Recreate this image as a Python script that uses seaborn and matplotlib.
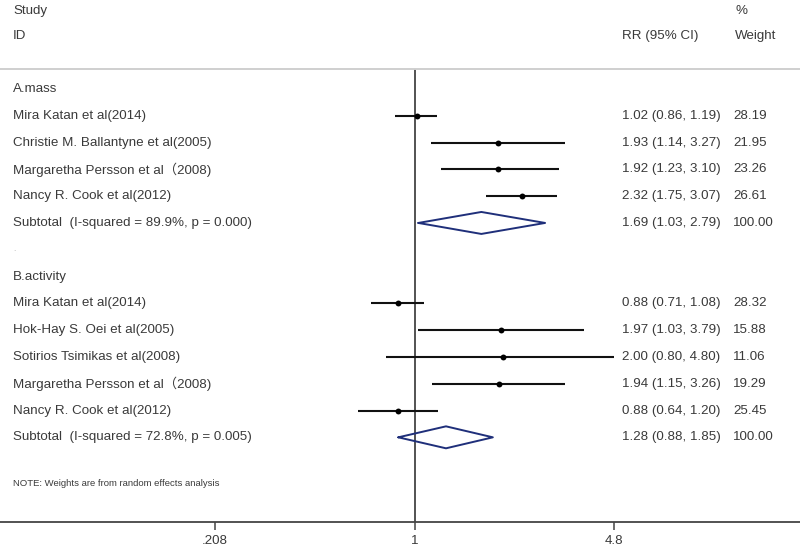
import numpy as np
import pandas as pd
import matplotlib
matplotlib.use("Agg")
import matplotlib.pyplot as plt
import seaborn as sns

# study rows (A.mass then B.activity)
groups = ["A.mass", "B.activity"]
mass_studies = ["Mira Katan et al(2014)", "Christie M. Ballantyne et al(2005)",
                "Margaretha Persson et al（2008)", "Nancy R. Cook et al(2012)"]
mass_rr = [1.02, 1.93, 1.92, 2.32]
mass_lo = [0.86, 1.14, 1.23, 1.75]
mass_hi = [1.19, 3.27, 3.10, 3.07]
mass_wt = ["28.19", "21.95", "23.26", "26.61"]
mass_sub = [1.69, 1.03, 2.79]
mass_sub_label = "Subtotal  (I-squared = 89.9%, p = 0.000)"

act_studies = ["Mira Katan et al(2014)", "Hok-Hay S. Oei et al(2005)",
               "Sotirios Tsimikas et al(2008)", "Margaretha Persson et al（2008)",
               "Nancy R. Cook et al(2012)"]
act_rr = [0.88, 1.97, 2.00, 1.94, 0.88]
act_lo = [0.71, 1.03, 0.80, 1.15, 0.64]
act_hi = [1.08, 3.79, 4.80, 3.26, 1.20]
act_wt = ["28.32", "15.88", "11.06", "19.29", "25.45"]
act_sub = [1.28, 0.88, 1.85]
act_sub_label = "Subtotal  (I-squared = 72.8%, p = 0.005)"

tick_vals = [0.208, 1, 4.8]
tick_labels = [".208", "1", "4.8"]

# build row table
rows = []
r = 0
for g, studies, rr, lo, hi, wt, sub, sublab in [
        ("A.mass", mass_studies, mass_rr, mass_lo, mass_hi, mass_wt, mass_sub, mass_sub_label),
        ("B.activity", act_studies, act_rr, act_lo, act_hi, act_wt, act_sub, act_sub_label)]:
    rows.append(dict(row=r, label=g, kind="group"))
    r += 1
    for s, a, b, c, w in zip(studies, rr, lo, hi, wt):
        rows.append(dict(row=r, label=s, kind="study", rr=a, lo=b, hi=c, wt=w))
        r += 1
    rows.append(dict(row=r, label=sublab, kind="sub", rr=sub[0], lo=sub[1], hi=sub[2], wt="100.00"))
    r += 1
    if g == "A.mass":
        rows.append(dict(row=r, label=".", kind="blank"))
        r += 1
df = pd.DataFrame(rows)

sns.set_theme(style="white")
plt.rcParams["font.family"] = ["Liberation Sans", "Noto Sans CJK SC", "DejaVu Sans"]
txt = "#3a3a3a"
fs = 9.6

fig = plt.figure(figsize=(8, 5.51), dpi=100)
ax = fig.add_axes([0, 29 / 551, 1, 522 / 551])
ax.set_xscale("log")
ax.set_xlim(0.0384, 20.7)
ax.set_ylim(16.16, -3.32)

studies_df = df[df.kind == "study"]
ax.hlines(studies_df.row, studies_df.lo, studies_df.hi, color="#111111", lw=1.5, zorder=3)
sns.scatterplot(data=studies_df, x="rr", y="row", color="black", s=18,
                edgecolor="black", linewidth=0, ax=ax, zorder=4, legend=False)

for _, d in df[df.kind == "sub"].iterrows():
    xs = [d.lo, d.rr, d.hi, d.rr, d.lo]
    ys = [d.row, d.row - 0.41, d.row, d.row + 0.41, d.row]
    ax.plot(xs, ys, color="#1f2f7a", lw=1.4, zorder=4)

# null line and header rule
ax.vlines(1, -0.75, 16.16, color="#444444", lw=1.3, zorder=2)
ax.axhline(-0.75, color="#cfcfcf", lw=1.4)

tr = ax.get_yaxis_transform()
ax.text(13 / 800, -2.9, "Study", transform=tr, fontsize=fs, color=txt, va="center")
ax.text(13 / 800, -1.98, "ID", transform=tr, fontsize=fs, color=txt, va="center")
ax.text(622 / 800, -1.98, "RR (95% CI)", transform=tr, fontsize=fs, color=txt, va="center")
ax.text(735 / 800, -2.9, "%", transform=tr, fontsize=fs, color=txt, va="center")
ax.text(735 / 800, -1.98, "Weight", transform=tr, fontsize=fs, color=txt, va="center")

for _, d in df.iterrows():
    size = 6 if d.kind == "blank" else fs
    ax.text(13 / 800, d.row, d.label, transform=tr, fontsize=size,
            color=txt if d.kind != "blank" else "#aaaaaa", va="center")
    if d.kind in ("study", "sub"):
        ax.text(622 / 800, d.row, f"{d.rr:.2f} ({d.lo:.2f}, {d.hi:.2f})", transform=tr,
                fontsize=fs, color=txt, va="center")
        ax.text(733 / 800, d.row, d.wt, transform=tr, fontsize=fs, color=txt, va="center")

ax.text(13 / 800, 14.72, "NOTE: Weights are from random effects analysis", transform=tr,
        fontsize=6.8, color=txt, va="center")

ax.set_xticks(tick_vals)
ax.set_xticklabels(tick_labels, fontsize=fs, color=txt)
ax.minorticks_off()
ax.tick_params(axis="x", direction="out", length=6, width=1.1, color="#444444", bottom=True, pad=3)
ax.set_yticks([])
ax.set_xlabel("")
ax.set_ylabel("")
for side in ["top", "left", "right"]:
    ax.spines[side].set_visible(False)
ax.spines["bottom"].set_color("#444444")
ax.spines["bottom"].set_linewidth(1.3)

fig.savefig("out.png", dpi=100, facecolor="white")
